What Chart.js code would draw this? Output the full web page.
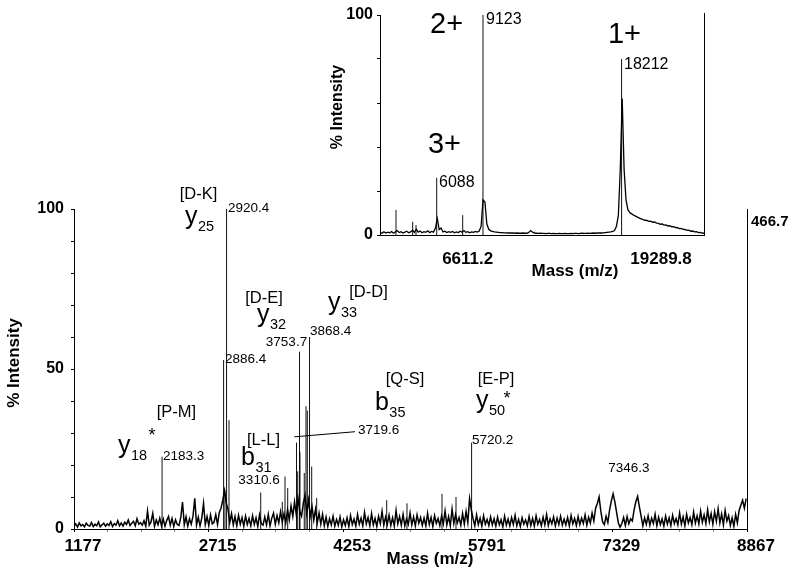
<!DOCTYPE html>
<html>
<head>
<meta charset="utf-8">
<script src="https://cdn.jsdelivr.net/npm/chart.js@4.4.1/dist/chart.umd.min.js"></script>
<style>
  html, body { margin: 0; padding: 0; background: #fff; }
  #wrap { position: relative; width: 800px; height: 578px; }
  #main { position: absolute; left: 0; top: 0; }
  #inset { position: absolute; left: 320px; top: 0; }
</style>
</head>
<body>
<div id="wrap">
  <canvas id="main" width="800" height="578"></canvas>
  <canvas id="inset" width="400" height="290"></canvas>
</div>
<script>
const FONT = '"Liberation Sans", Arial, sans-serif';

// ---- main spectrum ----
const xMajorTicks = [1177, 2715, 4253, 5791, 7329, 8867];
const absMax = "466.7";

// baseline noise, one reading every 20 Da from 1177
const noiseStart = 1177;
const noiseStep = 20;
const noiseLevel = [
  0.8,1.6,0.6,1.9,1.0,1.4,0.7,1.8,1.1,0.9,2.0,0.8,1.5,1.0,2.2,0.7,1.3,1.8,0.9,1.6,
  1.1,2.3,0.8,1.7,1.2,2.6,1.0,1.9,0.9,2.1,1.4,2.8,1.1,1.8,2.4,1.0,3.2,1.5,2.0,1.2,
  2.6,0.9,5.6,1.2,2.2,4.9,0.8,2.8,1.3,3.4,1.0,3.1,0.9,2.7,3.9,1.2,3.3,0.8,2.9,1.4,
  1.1,3.6,8.4,1.3,3.8,0.9,3.2,1.5,4.1,9.6,1.2,3.7,1.0,3.4,8.0,1.4,3.9,1.1,4.4,1.6,
  2.1,4.5,1.4,5.2,6.5,9.0,12,8,6.2,2.0,4.8,1.3,3.9,1.0,4.3,1.5,3.6,0.9,4.0,1.4,
  3.3,1.0,4.1,1.4,3.5,0.8,4.4,1.7,1.2,3.8,1.3,4.6,1.0,3.4,5.0,1.5,4.2,1.9,5.4,2.2,
  4.8,2.0,6.0,2.9,7.2,4.0,8.5,4.5,9.5,5.5,4.0,8.0,10.5,5.0,9.0,4.0,7.0,2.8,6.2,2.0,
  5.0,1.5,4.6,1.0,3.7,0.8,3.2,1.3,4.0,0.9,3.0,1.2,3.8,0.7,2.9,1.1,3.5,0.8,4.2,1.4,
  3.1,0.9,4.5,1.5,3.4,1.0,5.2,1.6,3.6,1.0,4.8,1.3,3.3,0.8,4.0,1.7,5.5,1.2,3.7,1.5,
  4.3,1.1,3.5,0.9,5.8,1.6,3.9,1.2,4.6,1.0,3.2,1.5,5.0,1.3,3.8,1.0,4.4,1.8,3.6,1.1,
  3.4,1.0,4.9,1.4,3.6,0.8,4.2,1.8,3.3,1.1,4.0,1.6,5.6,1.3,3.9,1.0,6.2,1.7,4.5,1.9,
  3.6,1.2,4.8,1.5,5.5,2.0,9.5,6.0,3.2,1.0,4.4,1.4,3.4,0.9,4.1,1.5,3.0,1.1,3.8,1.3,
  3.2,0.9,3.7,1.3,2.9,0.7,4.0,1.2,3.1,1.0,3.6,1.4,4.3,1.0,3.0,0.8,3.5,1.5,2.8,1.0,
  3.9,1.1,3.3,0.9,4.1,1.5,3.0,1.0,3.7,1.3,4.5,1.1,3.2,1.6,3.8,1.0,3.4,1.4,4.0,1.2,
  3.1,1.3,3.6,1.0,4.2,1.6,3.3,1.1,3.9,1.4,3.4,1.7,4.4,1.2,3.7,1.9,5.0,2.5,6.5,8.0,
  10.0,5.5,2.2,1.4,4.0,2.0,6.0,8.8,11.0,8.5,5.2,1.9,0.6,1.7,3.6,1.1,3.9,1.6,3.2,2.5,
  6.0,8.5,10.2,7.0,4.0,1.0,3.5,1.5,4.1,1.2,3.4,1.7,4.6,1.0,3.7,1.4,3.2,0.9,4.0,1.5,
  3.5,1.1,4.3,1.7,3.3,1.3,5.0,1.5,3.8,1.0,4.6,1.9,3.6,1.4,5.3,1.8,4.1,1.6,5.6,2.1,
  4.4,1.7,6.0,2.2,4.8,1.5,5.4,2.4,6.3,1.9,4.7,1.3,5.8,2.5,4.2,1.1,3.5,0.8,4.6,1.9,
  5.8,7.5,9.0,6.5,9.5
];

// fragment peaks (m/z, % intensity)
const peakMass   = [2183.3, 2886.4, 2902, 2920.4, 2948, 3310.6, 3557, 3588, 3619, 3719.6, 3733, 3753.7, 3759, 3808, 3828, 3843, 3868.4, 3893, 3950, 4750, 4982, 5382, 5542, 5720.2];
const peakHeight = [22.6,   52.8,   12,   100,    34,   11.4,   8.5,  16.4, 12.8, 27,     18,   55.4,   24,   17.5, 38.4, 37,   60,     19.5, 9.7,  9,    8,    11,   10,   27];

// annotations (text, m/z, % intensity)
const massLabels = [
  ["2920.4", 2936.6, 100.3, "left"],
  ["2886.4", 2902, 53.1, "left"],
  ["2183.3", 2194, 22.8, "left"],
  ["5720.2", 5724, 27.8, "left"],
  ["3868.4", 3873.5, 61.9, "left"],
  ["3753.7", 3605, 58.4, "center"],
  ["3310.6", 3291, 15.3, "center"],
  ["7346.3", 7518, 19.1, "center"],
  ["3719.6", 4422, 30.9, "left"]
];
const bracketLabels = [
  ["[D-K]", 2599, 104.4], ["[D-E]", 3348, 72.2], ["[D-D]", 4542, 73.8],
  ["[P-M]", 2348, 36.3], ["[L-L]", 3342, 27.8], ["[Q-S]", 4959, 46.6], ["[E-P]", 5999, 46.7]
];
const ionLabels = [
  ["y", "25", 2445, 95.2], ["y", "32", 3268, 64.7], ["y", "33", 4079, 68.4],
  ["y", "18", 1680, 23.8], ["b", "31", 3085, 20.0], ["b", "35", 4616, 37.2], ["y", "50", 5770, 37.8]
];
const starLabels = [[2068, 30], [6124, 41.6]];
const leader = [[3694, 28.8], [4388, 30.4]];

// ---- inset: intact protein ----
const insetXTicks = [6611.2, 19289.8];
const insetStart = 2375;
const insetStep = 125;
const insetProfile = [
  1.2,0.8,1.5,0.9,1.3,1.0,1.6,0.8,1.4,2.0,1.1,1.5,0.9,1.3,1.7,1.0,1.4,2.2,1.2,2.6,
  1.3,1.8,1.0,1.5,1.2,1.9,1.1,1.6,1.3,3.0,7.5,2.5,3.2,1.4,1.7,1.1,1.5,1.2,1.6,1.0,
  1.4,1.1,1.7,1.3,2.0,1.2,1.5,1.0,1.4,1.2,1.6,1.3,1.8,4.0,16,15,5.0,2.6,1.9,1.6,
  1.4,1.3,1.2,1.1,1.1,1.0,1.0,0.9,1.0,0.9,0.9,0.8,0.9,0.8,0.8,0.9,0.8,0.8,1.2,2.0,
  1.3,0.9,0.8,0.7,0.8,0.7,0.7,0.6,0.7,0.7,0.6,0.7,0.6,0.6,0.7,0.6,0.6,0.7,0.6,0.6,
  0.7,0.6,0.7,0.7,0.6,0.7,0.8,0.7,0.7,0.8,0.7,0.8,0.9,0.8,0.9,1.0,0.9,1.0,1.1,1.2,
  1.3,1.4,1.6,2.0,4.0,9.0,30,62,30,16,11.5,10.2,9.6,9.0,8.6,8.1,7.7,7.3,7.0,6.7,
  6.6,6.2,6.3,5.8,5.9,5.4,5.3,4.9,5.0,4.5,4.6,4.1,4.2,3.7,3.8,3.4,3.3,2.9,3.0,2.6,
  2.5,2.1,2.2,1.7,1.8,1.4,1.5,1.1,1.2,0.9,0.8
];
const insetPeakMass   = [3418, 4513, 4730, 6088, 7792, 9123, 18212];
const insetPeakHeight = [11.4, 6,    4.5,  26,   9,    100,  80];
const insetMassLabels = [["9123", 9319, 97.7], ["18212", 18368, 77.3], ["6088", 6238, 23.6]];
const chargeLabels = [["2+", 5648, 95.5], ["1+", 17319, 90.9], ["3+", 5516, 40.9]];

Chart.defaults.font.family = FONT;
Chart.defaults.color = "#000";

function sticks(masses, heights) {
  const pts = [];
  masses.forEach((m, i) => {
    pts.push({ x: m, y: 0 }, { x: m, y: heights[i] }, { x: m, y: null });
  });
  return pts;
}

function text(ctx, str, x, y, font, align) {
  ctx.font = font;
  ctx.textAlign = align || "left";
  ctx.textBaseline = "middle";
  ctx.fillText(str, x, y);
}

const mainDecor = {
  id: "mainDecor",
  afterDraw(chart) {
    const { ctx, chartArea: a } = chart;
    const x = chart.scales.x, y = chart.scales.y;
    ctx.save();
    ctx.fillStyle = "#000";
    ctx.strokeStyle = "#000";
    ctx.lineWidth = 1;
    ctx.beginPath();
    ctx.moveTo(a.right + 0.5, a.top);
    ctx.lineTo(a.right + 0.5, a.bottom);
    ctx.stroke();
    text(ctx, absMax, a.right + 4, a.top + 13, "bold 15px " + FONT);

    text(ctx, "Mass (m/z)", 430, 559, "bold 17px " + FONT, "center");
    ctx.save();
    ctx.translate(14, 363);
    ctx.rotate(-Math.PI / 2);
    text(ctx, "% Intensity", 0, 0, "bold 17px " + FONT, "center");
    ctx.restore();

    massLabels.forEach(([t, m, v, al]) => {
      text(ctx, t, x.getPixelForValue(m), y.getPixelForValue(v), "13.5px " + FONT, al);
    });
    bracketLabels.forEach(([t, m, v]) => {
      text(ctx, t, x.getPixelForValue(m), y.getPixelForValue(v), "16.5px " + FONT, "center");
    });
    ionLabels.forEach(([l, s, m, v]) => {
      const px = x.getPixelForValue(m), py = y.getPixelForValue(v);
      ctx.textAlign = "left";
      ctx.textBaseline = "alphabetic";
      ctx.font = "25px " + FONT;
      ctx.fillText(l, px, py);
      const w = ctx.measureText(l).width;
      ctx.font = "14.5px " + FONT;
      ctx.fillText(s, px + w + 0.5, py + 7);
    });
    starLabels.forEach(([m, v]) => {
      text(ctx, "*", x.getPixelForValue(m), y.getPixelForValue(v) + 3, "18px " + FONT, "center");
    });
    ctx.beginPath();
    ctx.moveTo(x.getPixelForValue(leader[0][0]), y.getPixelForValue(leader[0][1]));
    ctx.lineTo(x.getPixelForValue(leader[1][0]), y.getPixelForValue(leader[1][1]));
    ctx.stroke();
    ctx.restore();
  }
};

new Chart(document.getElementById("main"), {
  type: "line",
  data: {
    datasets: [
      {
        data: noiseLevel.map((v, i) => ({ x: noiseStart + i * noiseStep, y: v })),
        borderColor: "#000",
        borderWidth: 1.5,
        pointRadius: 0,
        tension: 0
      },
      {
        data: sticks(peakMass, peakHeight),
        borderColor: "#111",
        borderWidth: 1,
        pointRadius: 0,
        spanGaps: false
      }
    ]
  },
  options: {
    responsive: false,
    animation: false,
    layout: { padding: { top: 209, right: 53, left: 0, bottom: 0 } },
    plugins: { legend: { display: false }, tooltip: { enabled: false } },
    scales: {
      x: {
        type: "linear",
        min: xMajorTicks[0],
        max: xMajorTicks[xMajorTicks.length - 1],
        afterBuildTicks: (scale) => {
          const step = (xMajorTicks[1] - xMajorTicks[0]) / 4;
          const ticks = [];
          for (let i = 0; i <= (xMajorTicks.length - 1) * 4; i++) {
            ticks.push({ value: xMajorTicks[0] + i * step });
          }
          scale.ticks = ticks;
        },
        afterFit: (scale) => { scale.height = 49; },
        grid: {
          drawOnChartArea: false,
          tickLength: 3,
          color: (c) => (c.index % 4 === 0 ? "#000" : "#888")
        },
        border: { color: "#000", width: 1 },
        ticks: {
          autoSkip: false,
          maxRotation: 0,
          labelOffset: 9,
          padding: 4,
          font: { size: 17, weight: "bold" },
          callback: (v, i) => (i % 4 === 0 ? String(xMajorTicks[i / 4]) : "")
        }
      },
      y: {
        min: 0,
        max: 100,
        afterFit: (scale) => { scale.width = 74; },
        grid: { drawOnChartArea: false, tickLength: 3, color: "#000" },
        border: { color: "#000", width: 1 },
        ticks: {
          stepSize: 10,
          padding: 7,
          font: { size: 16, weight: "bold" },
          callback: (v) => (v % 50 === 0 ? v : "")
        }
      }
    }
  },
  plugins: [mainDecor]
});

const insetDecor = {
  id: "insetDecor",
  afterDraw(chart) {
    const { ctx, chartArea: a } = chart;
    const x = chart.scales.x, y = chart.scales.y;
    ctx.save();
    ctx.fillStyle = "#000";
    ctx.strokeStyle = "#000";
    ctx.lineWidth = 1;
    ctx.beginPath();
    ctx.moveTo(a.right + 0.5, a.top - 2);
    ctx.lineTo(a.right + 0.5, a.bottom);
    ctx.stroke();
    text(ctx, "Mass (m/z)", 255, 271, "bold 17px " + FONT, "center");
    ctx.save();
    ctx.translate(18, 107);
    ctx.rotate(-Math.PI / 2);
    text(ctx, "% Intensity", 0, 0, "bold 16px " + FONT, "center");
    ctx.restore();
    insetMassLabels.forEach(([t, m, v]) => {
      text(ctx, t, x.getPixelForValue(m), y.getPixelForValue(v), "16px " + FONT, "left");
    });
    chargeLabels.forEach(([t, m, v]) => {
      text(ctx, t, x.getPixelForValue(m), y.getPixelForValue(v), "29px " + FONT, "left");
    });
    ctx.restore();
  }
};

new Chart(document.getElementById("inset"), {
  type: "line",
  data: {
    datasets: [
      {
        data: insetProfile.map((v, i) => ({ x: insetStart + i * insetStep, y: v })),
        borderColor: "#000",
        borderWidth: 1.3,
        pointRadius: 0,
        tension: 0
      },
      {
        data: sticks(insetPeakMass, insetPeakHeight),
        borderColor: "#111",
        borderWidth: 1,
        pointRadius: 0,
        spanGaps: false
      }
    ]
  },
  options: {
    responsive: false,
    animation: false,
    layout: { padding: { top: 15, right: 16, left: 0, bottom: 0 } },
    plugins: { legend: { display: false }, tooltip: { enabled: false } },
    scales: {
      x: {
        type: "linear",
        min: 2369,
        max: 23615,
        afterBuildTicks: (scale) => { scale.ticks = insetXTicks.map((v) => ({ value: v })); },
        afterFit: (scale) => { scale.height = 55; },
        grid: { display: false },
        border: { display: true, color: "#000", width: 1 },
        ticks: {
          autoSkip: false,
          maxRotation: 0,
          labelOffset: 23,
          padding: 6,
          font: { size: 17, weight: "bold" },
          callback: (v) => v.toFixed(1)
        }
      },
      y: {
        min: 0,
        max: 100,
        afterFit: (scale) => { scale.width = 60; },
        grid: { drawOnChartArea: false, tickLength: 3, color: "#000" },
        border: { color: "#000", width: 1 },
        ticks: {
          stepSize: 10,
          padding: 4,
          font: { size: 16, weight: "bold" },
          callback: (v) => (v % 50 === 0 ? v : "")
        }
      }
    }
  },
  plugins: [insetDecor]
});
</script>
</body>
</html>
